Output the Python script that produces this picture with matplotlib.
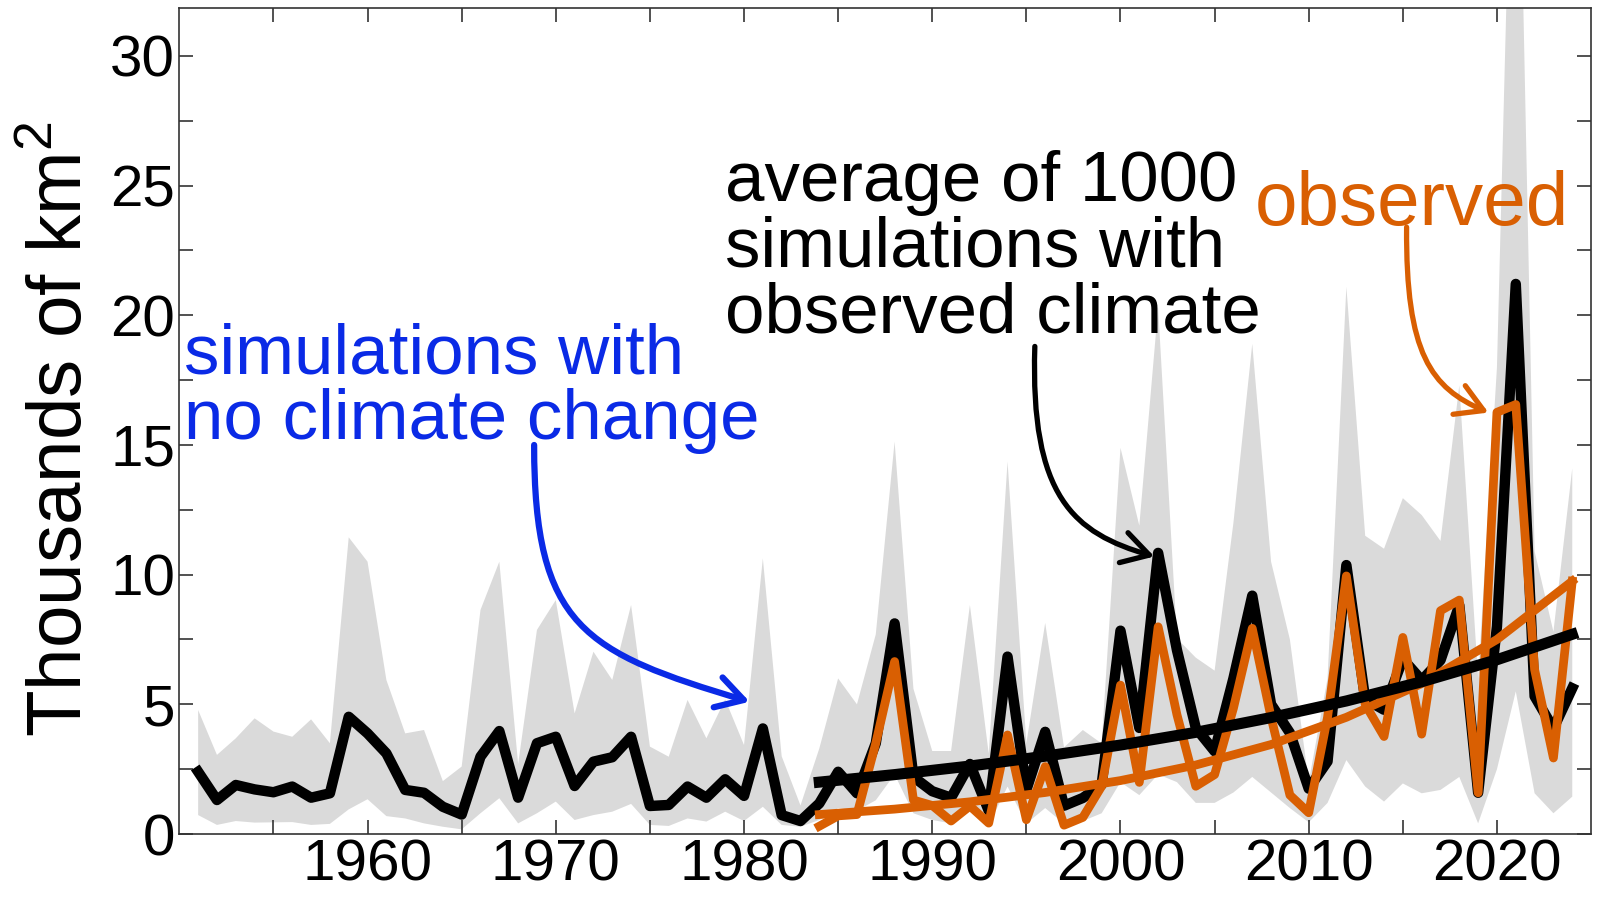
import matplotlib
matplotlib.use('Agg')
import matplotlib.pyplot as plt
from matplotlib.path import Path
from matplotlib.patches import FancyArrowPatch
from matplotlib.ticker import FixedLocator

plt.rcParams['font.family'] = ['Liberation Sans', 'DejaVu Sans']

# burned area, thousands of km2
sim_years = list(range(1951, 2025))
sim_mean = [2.40, 1.31, 1.89, 1.72, 1.61, 1.83, 1.40, 1.57, 4.52, 3.88,
            3.11, 1.70, 1.59, 1.05, 0.75, 2.98, 3.97, 1.40, 3.50, 3.75,
            1.85, 2.79, 2.96, 3.75, 1.08, 1.12, 1.83, 1.40, 2.11, 1.47,
            4.07, 0.73, 0.50, 1.18, 2.40, 1.57, 3.50, 8.12, 2.20, 1.65,
            1.40, 2.70, 0.90, 6.84, 1.70, 3.94, 1.09, 1.39, 1.90, 7.84,
            4.09, 10.84, 7.09, 4.09, 3.19, 6.00, 9.19, 5.00, 3.90, 1.75,
            2.80, 10.37, 5.20, 4.79, 6.75, 5.93, 6.70, 8.82, 1.59, 8.00,
            21.21, 5.31, 4.07, 5.62]
sim_high = [4.78, 3.05, 3.69, 4.46, 3.95, 3.75, 4.42, 3.50, 11.44, 10.50,
            5.94, 3.88, 4.01, 2.04, 2.60, 8.64, 10.50, 2.70, 7.87, 9.02,
            4.65, 7.03, 5.94, 8.83, 3.37, 2.98, 5.17, 3.69, 5.19, 3.43,
            10.63, 3.00, 1.10, 3.30, 6.00, 5.00, 7.70, 15.13, 5.60, 3.20,
            3.20, 8.83, 3.10, 14.36, 3.50, 8.14, 3.34, 4.01, 3.49, 14.89,
            11.89, 20.30, 7.54, 6.80, 6.30, 12.00, 18.90, 10.50, 7.50, 2.00,
            6.00, 21.10, 11.50, 11.00, 12.95, 12.30, 11.30, 17.30, 6.00, 18.00,
            46.00, 10.90, 7.80, 14.10]
sim_low = [0.73, 0.35, 0.50, 0.44, 0.45, 0.46, 0.35, 0.39, 0.95, 1.34,
           0.69, 0.60, 0.41, 0.28, 0.18, 0.80, 1.38, 0.41, 0.80, 1.25,
           0.54, 0.73, 0.86, 1.16, 0.35, 0.31, 0.60, 0.48, 0.86, 0.50,
           1.05, 0.35, 0.28, 0.54, 1.00, 0.90, 1.30, 2.30, 0.80, 0.54,
           0.41, 0.86, 0.35, 1.83, 0.40, 1.00, 0.40, 0.50, 0.80, 2.00,
           1.50, 2.30, 2.00, 1.20, 1.20, 1.60, 2.20, 1.60, 1.00, 0.45,
           1.20, 2.85, 1.83, 1.25, 1.95, 1.57, 1.70, 2.20, 0.41, 2.50,
           5.50, 1.57, 0.80, 1.44]

obs_years = list(range(1984, 2025))
observed = [0.30, 0.70, 0.75, 3.50, 6.65, 1.31, 1.10, 0.50, 1.08, 0.42,
            3.82, 0.55, 2.60, 0.34, 0.64, 1.84, 5.74, 1.99, 7.99, 4.60,
            1.84, 2.29, 4.85, 7.93, 4.50, 1.50, 0.82, 4.50, 9.95, 5.00,
            3.76, 7.58, 3.85, 8.61, 9.02, 1.59, 16.26, 16.56, 6.34, 2.93,
            9.75]

# fitted trends
trend_years = [1984, 1988, 1992, 1996, 2000, 2004, 2008, 2012, 2016, 2020, 2024]
sim_trend = [2.00, 2.29, 2.62, 3.00, 3.43, 3.92, 4.49, 5.13, 5.87, 6.72, 7.70]
obs_trend = [0.75, 0.96, 1.24, 1.60, 2.06, 2.66, 3.45, 4.50, 5.80, 7.50, 9.75]

blue = '#0a2ae6'
orange = '#d95f02'
band = '#dadada'

fig = plt.figure(figsize=(16.01, 8.99), dpi=100)
ax = fig.add_axes([0.112, 0.0723, 0.8818, 0.9188])

ax.fill_between(sim_years, sim_low, sim_high, color=band, lw=0, zorder=1)
ax.plot(sim_years, sim_mean, color='black', lw=7.5, zorder=3)
ax.plot(obs_years, observed, color=orange, lw=6.3, zorder=4)
ax.plot(trend_years, obs_trend, color=orange, lw=6.3, zorder=5)
ax.plot(trend_years, sim_trend, color='black', lw=8, zorder=6)

ax.set_xlim(1950, 2025)
ax.set_ylim(0, 31.85)

ax.xaxis.set_major_locator(FixedLocator(range(1960, 2021, 10)))
ax.xaxis.set_minor_locator(FixedLocator(range(1955, 2025, 10)))
ax.yaxis.set_major_locator(FixedLocator(range(0, 31, 5)))
ax.yaxis.set_minor_locator(FixedLocator([2.5 + 5 * i for i in range(6)]))
ax.tick_params(which='both', direction='in', top=True, right=True,
               length=10, width=1.2, color='#333333')
ax.tick_params(which='major', labelsize=42, pad=3)
for s in ax.spines.values():
    s.set_color('#333333')
    s.set_linewidth(1.2)

ax.set_ylabel('Thousands of km$^{\\mathregular{2}}$', fontsize=55, va='center')
ax.yaxis.set_label_coords(-0.083, 0.49)

# va='baseline' puts the last line's baseline on y
ax.text(1950.25, 15.23, 'simulations with\nno climate change', color=blue,
        fontsize=51, va='baseline', ha='left', linespacing=1.0, zorder=8)
ax.text(1978.97, 19.32, 'average of 1000\nsimulations with\nobserved climate',
        color='black', fontsize=51, va='baseline', ha='left',
        linespacing=1.0, zorder=8)
ax.text(2007.14, 23.5, 'observed', color=orange, fontsize=55,
        va='baseline', ha='left', zorder=8)


def curved_arrow(pts, color, lw):
    path = Path(pts, [Path.MOVETO, Path.CURVE4, Path.CURVE4, Path.CURVE4])
    arrow = FancyArrowPatch(path=path, color=color, lw=lw,
                            arrowstyle='->,head_length=0.6,head_width=0.35',
                            mutation_scale=32, transform=ax.transData,
                            zorder=9)
    ax.add_patch(arrow)


curved_arrow([(1968.85, 15.0), (1968.85, 8.0), (1971.5, 7.0), (1980.3, 5.1)],
             blue, 4.5)
curved_arrow([(1995.45, 18.8), (1995.2, 13.0), (1997.5, 11.6), (2001.8, 10.7)],
             'black', 3.8)
curved_arrow([(2015.2, 23.4), (2015.15, 18.5), (2016.5, 17.2), (2019.55, 16.25)],
             orange, 3.8)

fig.savefig('out.png', dpi=100)
